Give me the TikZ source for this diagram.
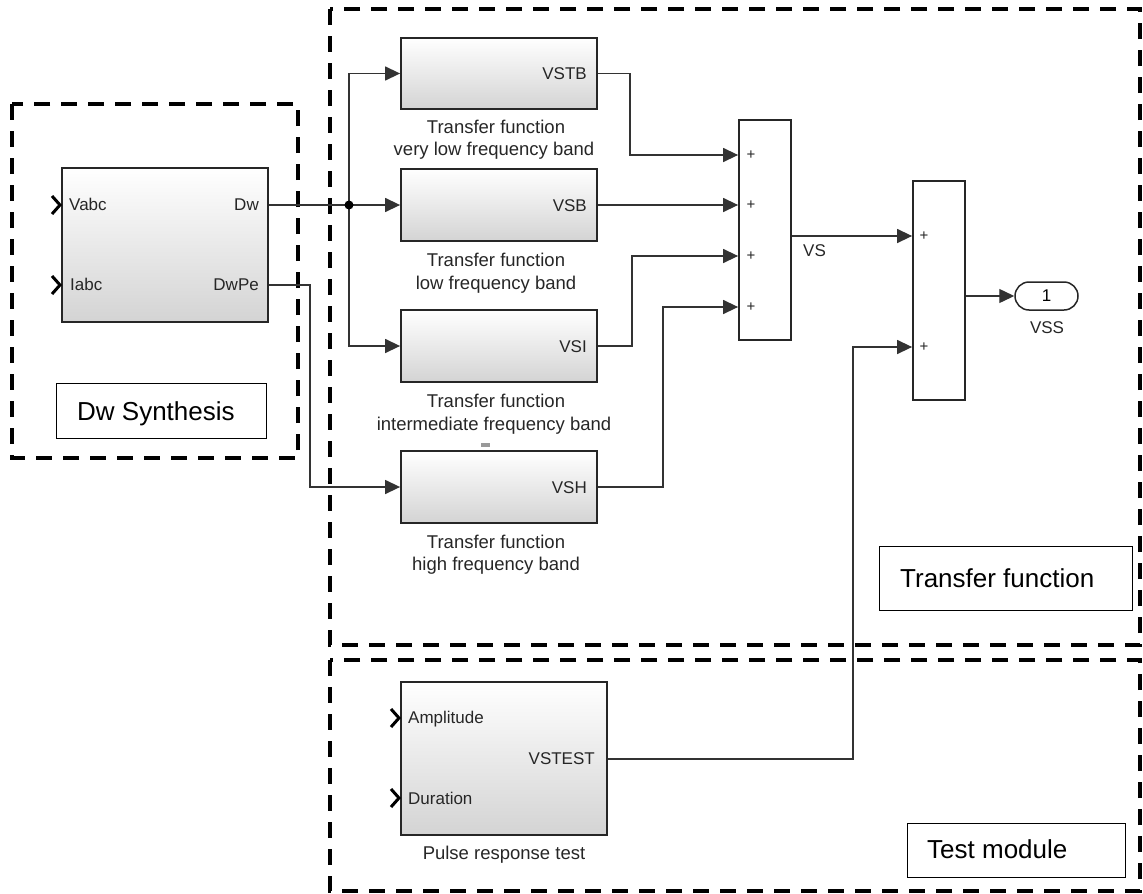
\documentclass[tikz,border=0pt]{standalone}
\usepackage{fontspec}
\setmainfont{Liberation Sans}
\usetikzlibrary{arrows.meta,calc}
\begin{document}
\begin{tikzpicture}[x=1pt,y=-1pt,
 blk/.style={draw=black!85, line width=1.8pt, top color=white, bottom color=black!17, inner sep=0pt, minimum width=196pt, minimum height=72pt},
 sumblk/.style={draw=black!85, line width=1.8pt, fill=white, inner sep=0pt, minimum width=52pt, minimum height=220pt},
 conn/.style={draw=black!80, line width=1.4pt},
 arr/.style={conn, -{Triangle[length=15pt,width=14pt]}},
 lbl/.style={font=\fontsize{17}{20}\selectfont, inner sep=0pt, text=black!85},
 captxt/.style={font=\fontsize{18.5}{22}\selectfont, inner sep=0pt, text=black!85},
 bigtxt/.style={font=\fontsize{26}{30}\selectfont, inner sep=0pt},
 plustxt/.style={font=\fontsize{15}{17}\selectfont, inner sep=0pt, text=black!85},
 region/.style={draw=black, line width=3.5pt, dash pattern=on 16pt off 11pt},
 tagbox/.style={draw=black, line width=1.2pt, inner sep=0pt, fill=white},
 chev/.style={draw=black, line width=3pt}
]
\useasboundingbox (0,0) rectangle (1143,894);

% dashed regions
\draw[region] (12,104) rectangle (298,458);
\draw[region] (330,9) rectangle (1140,645);
\draw[region] (330,660) rectangle (1140,891);

% blocks
\node[blk, minimum width=206pt, minimum height=154pt] (dw) at (165,245) {};
\node[blk, minimum height=71pt] (vstb) at (499,73.5) {};
\node[blk] (vsb) at (499,205) {};
\node[blk] (vsi) at (499,346) {};
\node[blk] (vsh) at (499,487) {};
\node[sumblk] (s1) at (765,230) {};
\node[sumblk, minimum height=219pt] (s2) at (939,290.5) {};
\node[blk, minimum width=206pt, minimum height=153pt] (pulse) at (504,758.5) {};
\node[draw=black!85, line width=1.5pt, rounded corners=14pt, minimum width=63pt, minimum height=28pt, fill=white, inner sep=0pt, font=\fontsize{17}{20}\selectfont] (vss) at (1046.5,296) {1};

% input port chevrons
\draw[chev] (52,196) -- (60,205) -- (52,214);
\draw[chev] (52,276) -- (60,285) -- (52,294);
\draw[chev] (391,709) -- (399,718) -- (391,727);
\draw[chev] (391,789) -- (399,798) -- (391,807);

% port labels
\node[lbl, anchor=base west] (lvabc) at (69,210) {Vabc};
\node[lbl, anchor=base west] (liabc) at (70,290) {Iabc};
\node[lbl, anchor=base east] (ldw) at (259,210) {Dw};
\node[lbl, anchor=base east] (ldwpe) at (259,290) {DwPe};
\node[lbl, anchor=base east] (lvstb) at (587,79) {VSTB};
\node[lbl, anchor=base east] (lvsb) at (587,211) {VSB};
\node[lbl, anchor=base east] (lvsi) at (587,352) {VSI};
\node[lbl, anchor=base east] (lvsh) at (587,493) {VSH};
\node[lbl, anchor=base west] (lamp) at (408,723) {Amplitude};
\node[lbl, anchor=base east] (lvst) at (595,764) {VSTEST};
\node[lbl, anchor=base west] (ldur) at (408,804) {Duration};
\node[lbl, anchor=base west] (lvs) at (803,256) {VS};
\node[lbl, anchor=base] (lvss) at (1047,333) {VSS};

% captions
\node[captxt, anchor=base] (c1a) at (496,133) {Transfer function};
\node[captxt, anchor=base] (c1b) at (494,155) {very low frequency band};
\node[captxt, anchor=base] (c2a) at (496,266) {Transfer function};
\node[captxt, anchor=base] (c2b) at (496,289) {low frequency band};
\node[captxt, anchor=base] (c3a) at (496,407) {Transfer function};
\node[captxt, anchor=base] (c3b) at (494,430) {intermediate frequency band};
\node[captxt, anchor=base] (c4a) at (496,548) {Transfer function};
\node[captxt, anchor=base] (c4b) at (496,570) {high frequency band};
\node[captxt, anchor=base] (c5) at (504,859) {Pulse response test};
\fill[black!40] (481,443) rectangle (490,447);

% sum signs
\foreach \yy/\nm in {155/pa,205/pb,256/pc,307/pd}{
  \node[plustxt] (\nm) at (751,\yy) {+};
}
\node[plustxt] (pe) at (924,236) {+};
\node[plustxt] (pf) at (924,347) {+};

% connectors
\coordinate (J) at (349,205);
\draw[conn] (dw.east |- J) -- (J);
\draw[arr] (J) -- (vsb.west);
\draw[arr] (J) |- (vstb.west);
\draw[arr] (J) |- (vsi.west);
\fill[black] (J) circle (4.5pt);
\coordinate (dwpeo) at ($(dw.east)+(0,40)$);
\coordinate (k1) at (310,487);
\draw[arr] (dwpeo) -| (k1) -- (vsh.west);

\draw[arr] (vstb.east) -| (630,155) -- (s1.west |- 0,155);
\draw[arr] (vsb.east) -- (s1.west |- vsb.east);
\draw[arr] (vsi.east) -| (632,256) -- (s1.west |- 0,256);
\draw[arr] (vsh.east) -| (663,307) -- (s1.west |- 0,307);
\draw[arr] (s1.east |- 0,236) -- (s2.west |- 0,236);
\draw[arr] (pulse.east |- 0,759) -| (853,347) -- (s2.west |- 0,347);
\draw[arr] (s2.east |- 0,296) -- (vss.west);

% tag boxes
\node[tagbox, anchor=north west, minimum width=210pt, minimum height=55pt] (dwtag) at (56,383) {};
\node[bigtxt, anchor=base west] (dwtagt) at (77,420) {Dw Synthesis};
\node[tagbox, anchor=north west, minimum width=253pt, minimum height=64pt] (tftag) at (879,546) {};
\node[bigtxt, anchor=base west] (tftagt) at (900,587) {Transfer function};
\node[tagbox, anchor=north west, minimum width=218pt, minimum height=54pt] (tmtag) at (907,823) {};
\node[bigtxt, anchor=base west] (tmtagt) at (927,858) {Test module};
\end{tikzpicture}
\end{document}
